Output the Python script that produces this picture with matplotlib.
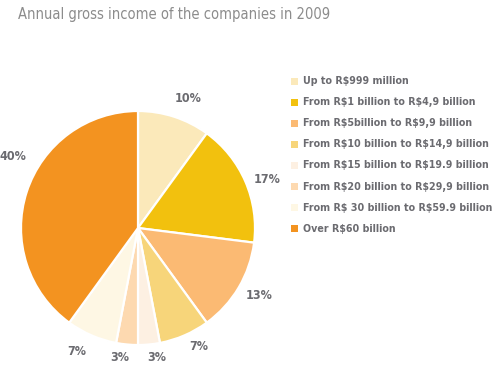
import matplotlib
matplotlib.use("Agg")
import matplotlib.pyplot as plt
from matplotlib.patches import Rectangle
import numpy as np

plt.rcParams["text.parse_math"] = False

title = "Annual gross income of the companies in 2009"
categories = ["Up to R$999 million",
              "From R$1 billion to R$4,9 billion",
              "From R$5billion to R$9,9 billion",
              "From R$10 billion to R$14,9 billion",
              "From R$15 billion to R$19.9 billion",
              "From R$20 billion to R$29,9 billion",
              "From R$ 30 billion to R$59.9 billion",
              "Over R$60 billion"]
values = [10, 17, 13, 7, 3, 3, 7, 40]
colors = ["#FBE9BA", "#F2C10E", "#FBBA73", "#F7D57A",
          "#FDF0E2", "#FDD9B0", "#FEF7E4", "#F39320"]

W, H = 497, 373
fig = plt.figure(figsize=(W / 100, H / 100), dpi=100)
fig.patch.set_facecolor("white")

cx, cy, r = 138, 228, 117
ax = fig.add_axes([(cx - r) / W, (H - cy - r) / H, 2 * r / W, 2 * r / H])
wedges, _ = ax.pie(values, colors=colors, startangle=90, counterclock=False,
                   radius=1, wedgeprops=dict(edgecolor="white", linewidth=1.6))
ax.set_xlim(-1, 1)
ax.set_ylim(-1, 1)
ax.set_aspect("equal")
ax.axis("off")

font = "DejaVu Sans"
stretch = "condensed"
# label placement: (radius factor, angle offset in degrees)
label_pos = [(1.19, -3), (1.18, -3), (1.18, 1.5), (1.14, 3.5),
             (1.12, 3), (1.12, -2.5), (1.18, -3), (1.23, -12)]
ang = 90.0
for v, (lr, off) in zip(values, label_pos):
    mid = ang - v * 360 / 100 / 2 + off
    ang -= v * 360 / 100
    x = lr * np.cos(np.deg2rad(mid))
    y = lr * np.sin(np.deg2rad(mid))
    ax.text(x, y, f"{v}%", ha="center", va="center", fontsize=9,
            fontweight="bold", color="#6b6b70", family=font,
            fontstretch=stretch, clip_on=False)

fig.text(18 / W, 1 - 15 / H, title, ha="left", va="center", fontsize=10.5,
         color="#8c8c8c", family=font, fontstretch=stretch)

y0, dy = 81, 21.1
for i, (c, lab) in enumerate(zip(colors, categories)):
    yy = y0 + i * dy
    fig.patches.append(Rectangle((291 / W, 1 - (yy + 3.5) / H), 7 / W, 7 / H,
                                 transform=fig.transFigure, facecolor=c,
                                 edgecolor="none"))
    fig.text(303 / W, 1 - yy / H, lab, ha="left", va="center", fontsize=7.7,
             fontweight="bold", color="#6b6b70", family=font,
             fontstretch=stretch)

fig.savefig("out.png", dpi=100, facecolor="white")
